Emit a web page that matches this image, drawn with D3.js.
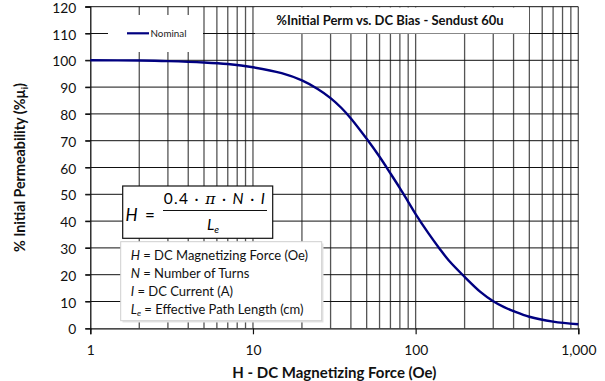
<!DOCTYPE html>
<html>
<head>
<meta charset="utf-8">
<script src="https://cdn.jsdelivr.net/npm/d3@7"></script>
<style>
  body { margin: 0; background: #fff; }
  svg { display: block; font-family: Lato, "Open Sans", sans-serif; }
</style>
</head>
<body>
<div id="chart"></div>
<script>
// data
const hValues = [1, 2, 3, 5, 7, 10, 15, 20, 25, 30, 35, 40, 50, 60, 70, 80, 90, 100, 120, 140, 160, 200, 250, 300, 350, 400, 500, 700, 1000];
const permValues = [100, 99.9, 99.7, 99.2, 98.6, 97.4, 95.2, 92.5, 89.3, 85.9, 82.2, 78.3, 70.7, 64, 57.8, 52.3, 47.2, 42.6, 35.4, 29.8, 25.3, 19.2, 13.6, 10.1, 7.9, 6.4, 4.3, 2.5, 1.5];
const seriesName = 'Nominal';
const xTickValues = [1, 10, 100, 1000];
const yTickValues = [0, 10, 20, 30, 40, 50, 60, 70, 80, 90, 100, 110, 120];
const chartTitle = '%Initial Perm vs. DC Bias - Sendust 60u';
const xTitle = 'H - DC Magnetizing Force (Oe)';
const definitions = [
  ['H', '', ' = DC Magnetizing Force (Oe)'],
  ['N', '', ' = Number of Turns'],
  ['I', '', ' = DC Current (A)'],
  ['L', 'e', ' = Effective Path Length (cm)']
];

const width = 605, height = 381;
const margin = { top: 6.7, right: 26.7, bottom: 52.7, left: 90.3 };

const svg = d3.select('#chart').append('svg')
  .attr('width', width)
  .attr('height', height);

const x = d3.scaleLog().domain([1, 1000]).range([margin.left, width - margin.right]);
const y = d3.scaleLinear().domain([0, 120]).range([height - margin.bottom, margin.top]);

// minor + major vertical grid lines (1..9 in each decade)
const xGrid = [];
[1, 10, 100].forEach(d => { for (let k = 1; k < 10; k++) xGrid.push(d * k); });
xGrid.push(1000);

svg.append('g').selectAll('line')
  .data(xGrid.slice(1))
  .join('line')
  .attr('x1', d => x(d)).attr('x2', d => x(d))
  .attr('y1', y(120)).attr('y2', y(0))
  .attr('stroke', '#555')
  .attr('stroke-width', 1.3);

svg.append('g').selectAll('line')
  .data(yTickValues.slice(1))
  .join('line')
  .attr('x1', x(1) - 5).attr('x2', x(1000))
  .attr('y1', d => y(d)).attr('y2', d => y(d))
  .attr('stroke', '#111')
  .attr('stroke-width', 1);

// axes
const xAxis = svg.append('g')
  .attr('transform', `translate(0,${y(0)})`)
  .call(d3.axisBottom(x).tickValues(xTickValues).tickSize(6).tickFormat(d3.format(',')));
const yAxis = svg.append('g')
  .attr('transform', `translate(${x(1)},0)`)
  .call(d3.axisLeft(y).tickValues(yTickValues).tickSize(5));

[xAxis, yAxis].forEach(a => {
  a.select('.domain').attr('stroke', '#111').attr('stroke-width', 1.3);
  a.selectAll('.tick line').attr('stroke', '#111').attr('stroke-width', 1.2);
  a.selectAll('.tick text').attr('fill', '#111').attr('font-family', 'Lato, sans-serif').attr('font-size', 13.8);
});
xAxis.selectAll('.tick text').attr('dy', 0).attr('y', 27);
yAxis.selectAll('.tick text').attr('x', -14).attr('dy', '0.4em');

// boxes that sit on top of the grid
svg.append('rect')
  .attr('x', 255).attr('y', 7.5).attr('width', 274).attr('height', 26)
  .attr('fill', '#fff');
svg.append('text')
  .attr('x', 390).attr('y', 25)
  .attr('text-anchor', 'middle')
  .attr('font-weight', 'bold')
  .attr('font-size', 13)
  .attr('fill', '#111')
  .text(chartTitle);

// legend
svg.append('rect')
  .attr('x', 108).attr('y', 15).attr('width', 95).attr('height', 37)
  .attr('fill', '#fff');
svg.append('line')
  .attr('x1', 127).attr('x2', 149).attr('y1', 33.3).attr('y2', 33.3)
  .attr('stroke', '#000080').attr('stroke-width', 2.2);
svg.append('text')
  .attr('x', 150.5).attr('y', 36.8)
  .attr('font-size', 9.8)
  .attr('fill', '#222')
  .text(seriesName);

// formula box
const fg = svg.append('g');
fg.append('rect')
  .attr('x', 122.7).attr('y', 186).attr('width', 150).attr('height', 52.3)
  .attr('fill', '#fff').attr('stroke', '#111').attr('stroke-width', 1.2);
fg.append('text').attr('x', 125.5).attr('y', 221)
  .attr('font-size', 17).attr('font-style', 'italic').text('H');
fg.append('text').attr('x', 150).attr('y', 221).attr('text-anchor', 'middle')
  .attr('font-size', 17).text('=');
fg.append('line').attr('x1', 163).attr('x2', 267).attr('y1', 210.5).attr('y2', 210.5)
  .attr('stroke', '#111').attr('stroke-width', 1.2);
const num = fg.append('text').attr('x', 215).attr('y', 204).attr('text-anchor', 'middle')
  .attr('font-size', 15.5).attr('letter-spacing', 1.3);
num.append('tspan').text('0.4 · ');
num.append('tspan').attr('font-style', 'italic').attr('font-family', 'DejaVu Serif').text('π');
num.append('tspan').text(' · ');
num.append('tspan').attr('font-style', 'italic').text('N');
num.append('tspan').text(' · ');
num.append('tspan').attr('font-style', 'italic').text('I');
const den = fg.append('text').attr('x', 213).attr('y', 229.5).attr('text-anchor', 'middle')
  .attr('font-size', 15.5).attr('font-style', 'italic');
den.append('tspan').text('L');
den.append('tspan').attr('font-size', 10).attr('dy', 3).text('e');

// definitions box
const dg = svg.append('g');
dg.append('rect')
  .attr('x', 122.5).attr('y', 243.5).attr('width', 201).attr('height', 79)
  .attr('fill', '#e3e3e3');
dg.append('rect')
  .attr('x', 120.7).attr('y', 241.7).attr('width', 201).attr('height', 79)
  .attr('fill', '#fff').attr('stroke', '#cfcfcf').attr('stroke-width', 1);
dg.selectAll('text')
  .data(definitions)
  .join('text')
  .attr('x', 130.7)
  .attr('y', (d, i) => 259.5 + i * 18)
  .attr('font-size', 13)
  .attr('fill', '#111')
  .each(function (d) {
    const t = d3.select(this);
    t.append('tspan').attr('font-style', 'italic').text(d[0]);
    if (d[1]) t.append('tspan').attr('font-style', 'italic').attr('font-size', 8.5).attr('dy', 2.5).text(d[1]);
    t.append('tspan').attr('dy', d[1] ? -2.5 : 0).text(d[2]);
  });

// the curve
const points = hValues.map((h, i) => [h, permValues[i]]);
svg.append('path')
  .datum(points)
  .attr('fill', 'none')
  .attr('stroke', '#000080')
  .attr('stroke-width', 2.4)
  .attr('d', d3.line().x(d => x(d[0])).y(d => y(d[1])).curve(d3.curveCatmullRom.alpha(0.5)));

// axis titles
svg.append('text')
  .attr('x', (x(1) + x(1000)) / 2).attr('y', 377.5)
  .attr('text-anchor', 'middle')
  .attr('font-weight', 'bold').attr('font-size', 15).attr('fill', '#111')
  .text(xTitle);

const yt = svg.append('text')
  .attr('transform', `translate(24.5,${(y(0) + y(120)) / 2}) rotate(-90)`)
  .attr('text-anchor', 'middle')
  .attr('font-weight', 'bold').attr('font-size', 14.3).attr('fill', '#111');
yt.append('tspan').text('% Initial Permeability (%µ');
yt.append('tspan').attr('font-size', 9).attr('dy', 3).text('i');
yt.append('tspan').attr('dy', -3).text(')');
</script>
</body>
</html>
